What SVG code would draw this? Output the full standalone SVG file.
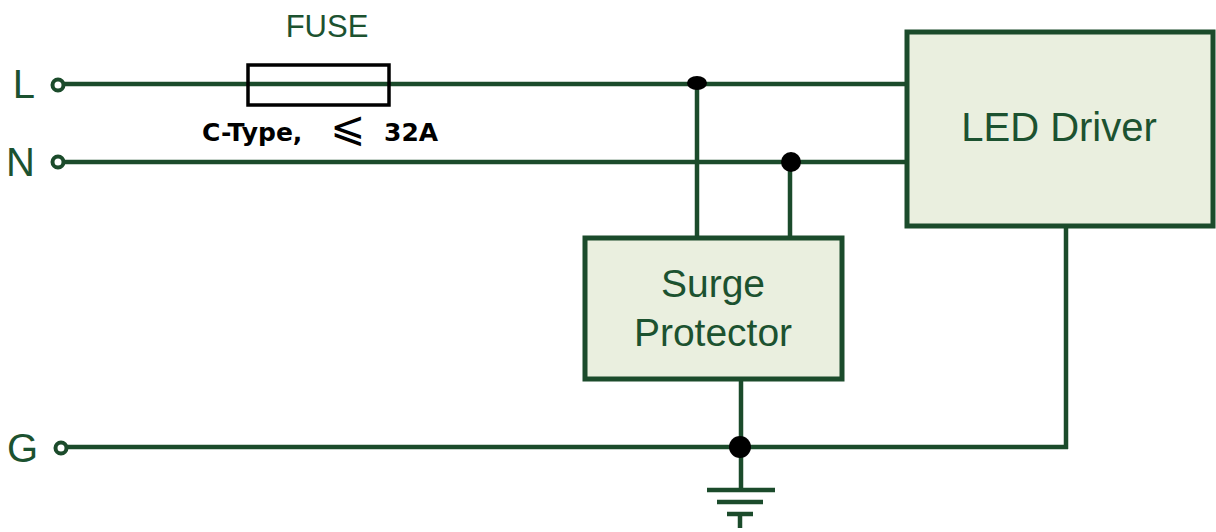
<svg xmlns="http://www.w3.org/2000/svg" width="1216" height="532" viewBox="0 0 1216 532">
<style>
.w{stroke:#1b4b2b;stroke-width:4.5;fill:none;stroke-linecap:butt}
.box{fill:#eaefdf;stroke:#1b4b2b;stroke-width:5}
.t{font-family:"Liberation Sans",Arial,sans-serif;fill:#1c5230}
.term{fill:#fff;stroke:#1b4b2b;stroke-width:4}
.dot{fill:#000}
.g{stroke:#1b4b2b;stroke-width:4.5;fill:none}
</style>
<rect width="1216" height="532" fill="#fff"/>
<g id="connectors">
<line class="w" x1="63" y1="84" x2="907" y2="84"/>
<line class="w" x1="63" y1="162" x2="907" y2="162"/>
<line class="w" x1="63" y1="447" x2="1068" y2="447"/>
<line class="w" x1="697" y1="84" x2="697" y2="238"/>
<line class="w" x1="790" y1="162" x2="790" y2="238"/>
<line class="w" x1="741" y1="380" x2="741" y2="490"/>
<line class="w" x1="1066" y1="228" x2="1066" y2="449"/>
<ellipse class="dot" cx="697" cy="83" rx="10" ry="7"/>
<circle class="dot" cx="791" cy="162" r="10"/>
<circle class="dot" cx="740" cy="447" r="11"/>
</g>
<g id="terminal-L">
<text class="t" x="35" y="98" font-size="40" text-anchor="end">L</text>
<circle class="term" cx="58" cy="85" r="5.5"/>
</g>
<g id="terminal-N">
<text class="t" x="35" y="176" font-size="40" text-anchor="end">N</text>
<circle class="term" cx="58" cy="162" r="5.5"/>
</g>
<g id="terminal-G">
<text class="t" x="38" y="462" font-size="40" text-anchor="end">G</text>
<circle class="term" cx="61" cy="448" r="5.5"/>
</g>
<g id="fuse">
<rect x="248" y="65" width="141" height="40" fill="none" stroke="#000" stroke-width="3.5"/>
<text class="t" x="327" y="37" font-size="31" text-anchor="middle">FUSE</text>
<text x="202" y="141" font-family="'DejaVu Sans',Verdana,sans-serif" font-weight="bold" font-size="25" fill="#000">C-Type,<tspan x="330" font-weight="normal" font-size="42">⩽</tspan><tspan x="384" font-size="25">32A</tspan></text>
</g>
<g id="surge-protector">
<rect class="box" x="585" y="238" width="257" height="141"/>
<text class="t" x="713" y="297" font-size="39" text-anchor="middle">Surge</text>
<text class="t" x="713" y="346" font-size="39" text-anchor="middle">Protector</text>
</g>
<g id="led-driver">
<rect class="box" x="907" y="32" width="306" height="194"/>
<text class="t" x="1059" y="141" font-size="40" text-anchor="middle">LED Driver</text>
</g>
<g id="ground">
<line class="g" x1="707" y1="490" x2="775" y2="490"/>
<line class="g" x1="717" y1="502" x2="763" y2="502"/>
<line class="g" x1="727" y1="514" x2="753" y2="514"/>
<line class="w" x1="740" y1="514" x2="740" y2="528"/>
</g>
</svg>
